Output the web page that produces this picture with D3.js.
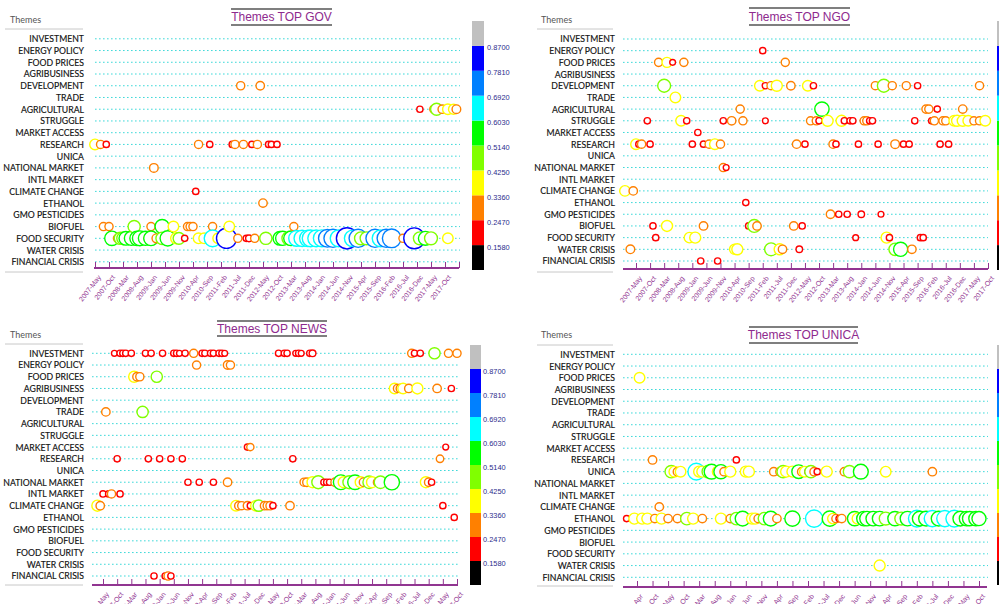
<!DOCTYPE html>
<html>
<head>
<meta charset="utf-8">
<script src="https://cdn.jsdelivr.net/npm/d3@7"></script>
<style>
  html, body { margin: 0; padding: 0; background: #fff; overflow: hidden; }
  #chart { width: 999px; height: 604px; }
</style>
</head>
<body>
<div id="chart"></div>
<script>
// themes, top to bottom
const themes = ["INVESTMENT", "ENERGY POLICY", "FOOD PRICES", "AGRIBUSINESS", "DEVELOPMENT",
  "TRADE", "AGRICULTURAL", "STRUGGLE", "MARKET ACCESS", "RESEARCH", "UNICA", "NATIONAL MARKET",
  "INTL MARKET", "CLIMATE CHANGE", "ETHANOL", "GMO PESTICIDES", "BIOFUEL", "FOOD SECURITY",
  "WATER CRISIS", "FINANCIAL CRISIS"];

// colour bar: breaks and band colours (low -> high)
const bandBreaks = [0.158, 0.247, 0.336, 0.425, 0.514, 0.603, 0.692, 0.781, 0.870];
const bandColors = ["#000000", "#ff0000", "#ff8000", "#ffff00", "#80ff00", "#00ff00", "#00ffff", "#0080ff", "#0000ff", "#c0c0c0"];

// x tick labels
const monthTicks = ["2007-May", "2007-Oct", "2008-Mar", "2008-Aug", "2009-Jan", "2009-Jun", "2009-Nov",
  "2010-Apr", "2010-Sep", "2011-Feb", "2011-Jul", "2011-Dec", "2012-May", "2012-Oct", "2013-Mar",
  "2013-Aug", "2014-Jan", "2014-Jun", "2014-Nov", "2015-Apr", "2015-Sep", "2016-Feb", "2016-Jul",
  "2016-Dec", "2017-May", "2017-Oct"];
const govTicks = monthTicks.concat(["2018-Mar"]);
const unicaTicks = ["2008-Apr", "2008-Oct", "2009-May", "2009-Oct", "2010-Mar", "2010-Aug", "2011-Jan",
  "2011-Jun", "2011-Nov", "2012-Apr", "2012-Sep", "2013-Feb", "2013-Jul", "2013-Dec", "2014-Jun",
  "2014-Nov", "2015-Apr", "2015-Sep", "2016-Feb", "2016-Jul", "2016-Dec", "2017-May", "2017-Oct"];

// bubbles: [month, score]
const govBubbles = {
  "DEVELOPMENT": [["2011-09", .30], ["2012-04", .31]],
  "AGRICULTURAL": [["2017-01", .22], ["2017-06", .30], ["2017-07", .46], ["2017-09", .31], ["2017-11", .40], ["2018-01", .38], ["2018-02", .32]],
  "RESEARCH": [["2007-05", .40], ["2007-07", .30], ["2007-09", .22], ["2010-06", .30], ["2010-10", .22], ["2011-06", .22], ["2011-07", .30],
    ["2011-10", .30], ["2012-01", .22], ["2012-03", .30], ["2012-07", .22], ["2012-08", .22], ["2012-10", .22]],
  "NATIONAL MARKET": [["2009-02", .32]],
  "CLIMATE CHANGE": [["2010-05", .22]],
  "ETHANOL": [["2012-05", .31]],
  "BIOFUEL": [["2007-08", .30], ["2007-10", .30], ["2008-07", .47], ["2009-01", .30], ["2009-05", .55], ["2009-09", .40], ["2010-02", .30],
    ["2010-03", .30], ["2010-04", .30], ["2010-11", .30], ["2011-05", .40], ["2013-04", .30]],
  "FOOD SECURITY": [["2007-11", .56], ["2008-01", .30], ["2008-02", .47], ["2008-03", .48], ["2008-04", .53], ["2008-06", .55], ["2008-08", .56],
    ["2008-09", .58], ["2008-11", .55], ["2008-12", .30], ["2009-01", .57], ["2009-03", .33], ["2009-05", .48], ["2009-07", .60],
    ["2009-10", .42], ["2009-11", .45], ["2010-01", .22], ["2010-06", .40], ["2010-08", .40], ["2010-11", .66], ["2011-01", .40],
    ["2011-04", .80], ["2011-08", .30], ["2011-11", .22], ["2011-12", .24], ["2012-02", .30], ["2012-06", .47], ["2012-11", .53],
    ["2012-12", .55], ["2013-02", .50], ["2013-03", .57], ["2013-05", .62], ["2013-07", .64], ["2013-09", .65], ["2013-10", .66],
    ["2013-12", .66], ["2014-02", .67], ["2014-04", .70], ["2014-06", .72], ["2014-08", .66], ["2014-11", .85], ["2015-01", .65],
    ["2015-03", .72], ["2015-04", .50], ["2015-06", .50], ["2015-09", .72], ["2015-11", .66], ["2016-01", .72], ["2016-03", .74],
    ["2016-07", .30], ["2016-11", .84], ["2017-01", .50], ["2017-03", .54], ["2017-05", .50], ["2017-11", .40]]
};

const ngoBubbles = {
  "ENERGY POLICY": [["2011-02", .22]],
  "FOOD PRICES": [["2008-01", .30], ["2008-04", .38], ["2008-06", .20], ["2008-10", .30], ["2011-10", .30]],
  "DEVELOPMENT": [["2008-03", .50], ["2011-01", .40], ["2011-03", .22], ["2011-05", .30], ["2011-07", .42], ["2011-12", .31], ["2012-06", .40],
    ["2012-08", .22], ["2014-06", .30], ["2014-09", .50], ["2014-12", .30], ["2015-05", .30], ["2015-09", .22], ["2017-07", .30]],
  "TRADE": [["2008-07", .40]],
  "AGRICULTURAL": [["2010-06", .30], ["2012-11", .56], ["2015-12", .30], ["2016-01", .30], ["2016-04", .22], ["2017-01", .31]],
  "STRUGGLE": [["2007-09", .22], ["2008-09", .40], ["2008-11", .22], ["2009-12", .22], ["2010-03", .31], ["2010-07", .30], ["2011-03", .20],
    ["2012-07", .30], ["2012-09", .30], ["2012-10", .22], ["2013-01", .42], ["2013-06", .42], ["2013-07", .22], ["2013-09", .22],
    ["2013-10", .22], ["2014-02", .30], ["2014-03", .30], ["2014-04", .22], ["2014-05", .22], ["2015-08", .22], ["2016-02", .22],
    ["2016-03", .30], ["2016-06", .30], ["2016-07", .30], ["2016-10", .40], ["2016-11", .42], ["2017-01", .42], ["2017-03", .40],
    ["2017-05", .30], ["2017-07", .30], ["2017-09", .40]],
  "MARKET ACCESS": [["2009-03", .22]],
  "RESEARCH": [["2007-05", .40], ["2007-06", .22], ["2007-07", .30], ["2007-10", .22], ["2009-01", .22], ["2009-05", .22], ["2009-07", .30],
    ["2009-09", .40], ["2009-11", .30], ["2012-02", .31], ["2012-05", .22], ["2013-03", .31], ["2013-04", .22], ["2013-12", .22],
    ["2014-07", .22], ["2015-01", .32], ["2015-04", .22], ["2015-06", .22], ["2016-05", .22], ["2016-08", .22]],
  "NATIONAL MARKET": [["2009-12", .30], ["2010-01", .20]],
  "CLIMATE CHANGE": [["2007-01", .40], ["2007-04", .31]],
  "ETHANOL": [["2010-08", .22]],
  "GMO PESTICIDES": [["2013-02", .31], ["2013-05", .22], ["2013-08", .22], ["2014-01", .23], ["2014-08", .20]],
  "BIOFUEL": [["2007-11", .22], ["2008-04", .42], ["2009-05", .31], ["2010-09", .22], ["2010-11", .50], ["2010-12", .31], ["2012-01", .31], ["2012-04", .22]],
  "FOOD SECURITY": [["2007-12", .22], ["2008-12", .40], ["2009-02", .42], ["2013-11", .20], ["2014-10", .42], ["2014-11", .22], ["2015-10", .22], ["2015-11", .22]],
  "WATER CRISIS": [["2007-03", .32], ["2010-04", .38], ["2010-05", .42], ["2011-05", .50], ["2011-08", .42], ["2011-09", .31], ["2012-03", .23],
    ["2015-01", .48], ["2015-03", .55], ["2015-07", .31]],
  "FINANCIAL CRISIS": [["2009-04", .22], ["2009-10", .22]]
};

const newsBubbles = {
  "INVESTMENT": [["2007-09", .20], ["2007-11", .22], ["2007-12", .22], ["2008-01", .22], ["2008-03", .22], ["2008-08", .22], ["2008-10", .22],
    ["2009-02", .22], ["2009-06", .22], ["2009-07", .22], ["2009-08", .20], ["2009-10", .22], ["2010-01", .30], ["2010-04", .22],
    ["2010-05", .22], ["2010-07", .22], ["2010-08", .22], ["2010-10", .22], ["2010-11", .22], ["2010-12", .20], ["2012-07", .22],
    ["2012-09", .22], ["2012-10", .22], ["2013-01", .20], ["2013-02", .22], ["2013-03", .20], ["2013-06", .22], ["2013-07", .24],
    ["2016-06", .30], ["2016-07", .22], ["2016-09", .22], ["2017-02", .43], ["2017-07", .30], ["2017-10", .30]],
  "ENERGY POLICY": [["2010-02", .30], ["2011-01", .31], ["2011-02", .30]],
  "FOOD PRICES": [["2008-04", .42], ["2008-05", .31], ["2008-06", .30], ["2008-12", .43]],
  "AGRIBUSINESS": [["2015-12", .40], ["2016-01", .30], ["2016-02", .31], ["2016-03", .40], ["2016-05", .31], ["2016-08", .42], ["2017-03", .31], ["2017-08", .22]],
  "TRADE": [["2007-06", .31], ["2008-07", .43]],
  "MARKET ACCESS": [["2011-08", .22], ["2011-09", .26], ["2017-06", .20]],
  "RESEARCH": [["2007-10", .22], ["2008-09", .22], ["2009-01", .22], ["2009-05", .22], ["2009-09", .22], ["2012-12", .22], ["2017-04", .27]],
  "NATIONAL MARKET": [["2009-11", .22], ["2010-03", .22], ["2010-08", .22], ["2011-01", .31], ["2013-04", .30], ["2013-05", .31], ["2013-07", .42],
    ["2013-09", .50], ["2013-11", .22], ["2013-12", .22], ["2014-01", .22], ["2014-03", .31], ["2014-05", .58], ["2014-06", .42],
    ["2014-08", .50], ["2014-10", .57], ["2014-12", .42], ["2015-01", .32], ["2015-03", .48], ["2015-04", .42], ["2015-06", .32],
    ["2015-07", .48], ["2015-11", .60], ["2016-11", .42], ["2016-12", .31], ["2017-01", .22]],
  "INTL MARKET": [["2007-05", .22], ["2007-07", .22], ["2007-08", .30], ["2007-11", .22]],
  "CLIMATE CHANGE": [["2007-03", .42], ["2007-04", .31], ["2011-04", .40], ["2011-05", .31], ["2011-06", .30], ["2011-08", .31], ["2011-09", .22],
    ["2011-11", .40], ["2011-12", .43], ["2012-02", .31], ["2012-03", .30], ["2012-04", .31], ["2012-05", .22], ["2012-11", .31], ["2017-05", .22]],
  "ETHANOL": [["2017-09", .22]],
  "FINANCIAL CRISIS": [["2008-11", .22], ["2009-03", .22], ["2009-04", .30], ["2009-05", .22]]
};

const unicaBubbles = {
  "FOOD PRICES": [["2008-05", .40]],
  "RESEARCH": [["2008-10", .31], ["2011-03", .22]],
  "UNICA": [["2009-06", .48], ["2009-07", .40], ["2009-08", .31], ["2009-09", .40], ["2010-02", .66], ["2010-03", .42], ["2010-04", .42],
    ["2010-06", .50], ["2010-07", .58], ["2010-09", .42], ["2010-10", .55], ["2010-11", .31], ["2011-01", .42], ["2011-06", .42],
    ["2011-07", .42], ["2012-03", .31], ["2012-05", .31], ["2012-06", .47], ["2012-07", .42], ["2012-09", .42], ["2012-11", .53],
    ["2012-12", .31], ["2013-01", .40], ["2013-02", .22], ["2013-03", .47], ["2013-04", .31], ["2013-05", .22], ["2013-08", .42],
    ["2014-02", .31], ["2014-04", .47], ["2014-08", .58], ["2015-04", .40], ["2016-07", .31]],
  "CLIMATE CHANGE": [["2009-01", .31]],
  "ETHANOL": [["2007-12", .22], ["2008-03", .42], ["2008-06", .42], ["2008-08", .42], ["2008-11", .31], ["2009-02", .42], ["2009-05", .31],
    ["2009-08", .31], ["2009-11", .48], ["2010-01", .42], ["2010-04", .31], ["2010-10", .42], ["2011-01", .31], ["2011-03", .48],
    ["2011-05", .58], ["2011-08", .42], ["2011-09", .42], ["2011-10", .31], ["2011-12", .48], ["2012-02", .58], ["2012-04", .31],
    ["2012-09", .60], ["2013-04", .68], ["2013-09", .60], ["2013-10", .40], ["2013-11", .31], ["2013-12", .22], ["2014-01", .31],
    ["2014-06", .56], ["2014-07", .42], ["2014-09", .57], ["2014-10", .57], ["2014-12", .57], ["2015-02", .57], ["2015-04", .50],
    ["2015-07", .56], ["2015-09", .50], ["2015-11", .57], ["2016-02", .66], ["2016-03", .58], ["2016-05", .58], ["2016-07", .64],
    ["2016-09", .58], ["2016-11", .64], ["2017-02", .66], ["2017-04", .58], ["2017-06", .57], ["2017-07", .56], ["2017-09", .56],
    ["2017-10", .55]],
  "WATER CRISIS": [["2015-02", .42]]
};

// layout of the four panels (pixel positions in the page)
var panels = [
  {title: "Themes TOP GOV", bubbles: govBubbles, ticks: govTicks, hideLast: true,
   titleX: [231, 332], titleLines: [9, 25], titleY: 17,
   labelX: 84, headX: 10, headY: 23, ruleX: [5, 83], ruleY: 29, footY: 272,
   gridX: [95, 460], axisX: [94, 459], axisY: 268, tickX: [95, 459], rowY: [38.8, 261.8],
   bar: {x: 472, w: 12, y: [21, 270], labelX: 487}},
  {title: "Themes TOP NGO", bubbles: ngoBubbles, ticks: monthTicks, hideLast: false,
   titleX: [749, 850], titleLines: [8, 25], titleY: 17,
   labelX: 615, headX: 541, headY: 23, ruleX: [537, 613], ruleY: 29, footY: 272,
   gridX: [623, 988], axisX: [623, 988], axisY: 269, tickX: [636, 988], rowY: [39, 261],
   bar: {x: 997, w: 12, y: [21, 270], labelX: null}},
  {title: "Themes TOP NEWS", bubbles: newsBubbles, ticks: monthTicks, hideLast: false,
   titleX: [217, 327], titleLines: [321, 336], titleY: 329,
   labelX: 84, headX: 10, headY: 338, ruleX: [5, 83], ruleY: 344, footY: 585,
   gridX: [92, 458], axisX: [92, 458], axisY: 585, tickX: [103, 457], rowY: [353.3, 576],
   bar: {x: 470, w: 11, y: [345, 585], labelX: 483}},
  {title: "Themes TOP UNICA", bubbles: unicaBubbles, ticks: unicaTicks, hideLast: false,
   titleX: [749, 858], titleLines: [327, 343], titleY: 335,
   labelX: 615, headX: 541, headY: 338, ruleX: [537, 613], ruleY: 345, footY: 586,
   gridX: [623, 988], axisX: [623, 987], axisY: 587, tickX: [637, 979], rowY: [354.3, 577.3],
   bar: {x: 997, w: 12, y: [345, 585], labelX: null}}
];

var purple = "#913591";
var parseMonth = d3.timeParse("%Y-%m");
var parseTick = d3.timeParse("%Y-%b");
var color = d3.scaleThreshold().domain(bandBreaks).range(bandColors);
var radius = d3.scaleLinear().domain([0.2, 0.85]).range([2.9, 10.6]);

var svg = d3.select("#chart")
  .append("svg")
    .attr("width", 999)
    .attr("height", 604);

panels.forEach(function(p) {
  var g = svg.append("g");

  var tickDates = p.ticks.map(parseTick);
  var step = (p.tickX[1] - p.tickX[0]) / (tickDates.length - 1);
  // ticks are evenly spaced even where months are not
  var x = d3.scaleTime()
    .domain(tickDates)
    .range(tickDates.map(function(d, i) { return p.tickX[0] + i * step; }));

  var y = d3.scalePoint()
    .domain(themes)
    .range(p.rowY);

  // title with rules above and below
  g.append("text")
    .attr("x", (p.titleX[0] + p.titleX[1]) / 2)
    .attr("y", p.titleY)
    .attr("dy", "0.35em")
    .attr("text-anchor", "middle")
    .style("font-family", "'Liberation Sans', Arial, sans-serif")
    .style("font-size", "12px")
    .style("fill", "#8e2a8e")
    .text(p.title);
  p.titleLines.forEach(function(ly) {
    g.append("line")
      .attr("x1", p.titleX[0]).attr("x2", p.titleX[1])
      .attr("y1", ly).attr("y2", ly)
      .attr("stroke", "#555")
      .attr("stroke-width", 1.4);
  });

  // "Themes" header and rules of the label column
  g.append("text")
    .attr("x", p.headX)
    .attr("y", p.headY)
    .style("font-family", "Lato, sans-serif")
    .style("font-size", "9px")
    .style("fill", "#555")
    .text("Themes");
  [p.ruleY, p.footY].forEach(function(ly) {
    g.append("line")
      .attr("x1", p.ruleX[0]).attr("x2", p.ruleX[1])
      .attr("y1", ly).attr("y2", ly)
      .attr("stroke", "#c8c8c8")
      .attr("stroke-width", 1);
  });

  // dotted row lines
  g.selectAll("line.row")
    .data(themes)
    .enter()
    .append("line")
      .attr("x1", p.gridX[0])
      .attr("x2", p.gridX[1])
      .attr("y1", function(d) { return y(d); })
      .attr("y2", function(d) { return y(d); })
      .attr("stroke", "#3fd9d9")
      .attr("stroke-width", 1)
      .attr("stroke-dasharray", "1.6,2.4");

  // theme labels
  var yAxis = g.append("g")
    .attr("transform", "translate(" + p.labelX + ",0)")
    .call(d3.axisLeft(y).tickSize(0).tickPadding(0));
  yAxis.select(".domain").remove();
  yAxis.selectAll("text")
    .attr("dy", "0.34em")
    .style("font-family", "Lato, sans-serif")
    .style("font-size", "8.7px")
    .style("fill", "#111")
    .style("stroke", "#111")
    .style("stroke-width", "0.15px");

  // x axis: ticks point up, labels slanted below
  var xAxis = g.append("g")
    .attr("transform", "translate(0," + p.axisY + ")")
    .call(d3.axisBottom(x)
      .tickValues(tickDates)
      .tickSizeInner(-6)
      .tickSizeOuter(0)
      .tickFormat(function(d, i) { return (p.hideLast && i === tickDates.length - 1) ? "" : p.ticks[i]; }));
  xAxis.select(".domain").remove();
  xAxis.selectAll(".tick line")
    .attr("stroke", purple)
    .attr("stroke-width", 1);
  xAxis.selectAll(".tick text")
    .attr("x", 0)
    .attr("y", 0)
    .attr("dy", "0.35em")
    .attr("transform", "translate(4,8)rotate(-52)")
    .style("text-anchor", "end")
    .style("font-family", "'Liberation Sans', Arial, sans-serif")
    .style("font-size", "7px")
    .style("fill", purple);
  g.append("line")
    .attr("x1", p.axisX[0]).attr("x2", p.axisX[1])
    .attr("y1", p.axisY).attr("y2", p.axisY)
    .attr("stroke", purple)
    .attr("stroke-width", 2);

  // bubbles, drawn in time order so later ones cover earlier ones
  var points = [];
  Object.keys(p.bubbles).forEach(function(theme) {
    p.bubbles[theme].forEach(function(b) {
      points.push({theme: theme, date: parseMonth(b[0]), value: b[1]});
    });
  });
  points.sort(function(a, b) { return a.date - b.date; });

  g.selectAll("circle.bubble")
    .data(points)
    .enter()
    .append("circle")
      .attr("cx", function(d) { return x(d.date); })
      .attr("cy", function(d) { return y(d.theme); })
      .attr("r", function(d) { return radius(d.value); })
      .attr("fill", "#fff")
      .attr("stroke", function(d) { return color(d.value); })
      .attr("stroke-width", 1.4);

  // colour bar
  var yb = d3.scaleLinear()
    .domain([0, bandColors.length])
    .range([p.bar.y[1], p.bar.y[0]]);
  g.selectAll("rect.band")
    .data(bandColors)
    .enter()
    .append("rect")
      .attr("x", p.bar.x)
      .attr("y", function(d, i) { return yb(i + 1); })
      .attr("width", p.bar.w)
      .attr("height", function(d, i) { return yb(i) - yb(i + 1); })
      .attr("fill", function(d) { return d; });
  if (p.bar.labelX) {
    g.selectAll("text.band")
      .data(bandBreaks)
      .enter()
      .append("text")
        .attr("x", p.bar.labelX)
        .attr("y", function(d, i) { return yb(i + 1) + 2; })
        .attr("dy", "0.35em")
        .style("font-family", "'Liberation Sans', Arial, sans-serif")
        .style("font-size", "7.4px")
        .style("fill", "#2b2b8c")
        .text(d3.format(".4f"));
  }
});
</script>
</body>
</html>
